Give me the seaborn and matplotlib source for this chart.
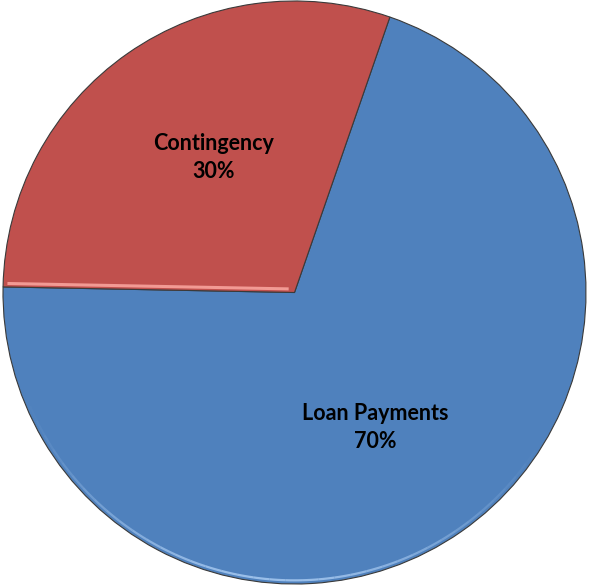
import matplotlib
matplotlib.use("Agg")
import numpy as np
import matplotlib.pyplot as plt
from matplotlib.patches import Arc
import seaborn as sns

categories = ["Loan Payments", "Contingency"]
shares = [70, 30]
colors = ["#4F81BD", "#C0504D"]

sns.set_theme(style="white")
plt.rcParams["font.family"] = ["Lato", "DejaVu Sans"]

fig = plt.figure(figsize=(5.89, 5.88), dpi=100)
ax = fig.add_axes([0, 0, 1, 1])

labels_iter = iter(categories)


def fmt(pct):
    return f"{next(labels_iter)}\n{pct:.0f}%"


wedges, texts, autotexts = ax.pie(
    shares,
    colors=colors,
    startangle=70.9,
    counterclock=False,
    autopct=fmt,
    pctdistance=0.54,
    wedgeprops=dict(edgecolor="#3a3a3a", linewidth=0.8),
    textprops=dict(fontsize=15.5, fontweight="bold", color="black",
                   linespacing=1.45),
)

# nudge labels a few degrees clockwise around the centre
rot = np.deg2rad(-4)
for t in autotexts:
    x, y = t.get_position()
    t.set_position((x * np.cos(rot) - y * np.sin(rot),
                    x * np.sin(rot) + y * np.cos(rot)))

# bevel highlight along the bottom rim, fading in and out
n_seg = 40
edges = np.linspace(200, 330, n_seg + 1)
for i in range(n_seg):
    fade = np.sin(np.pi * (i + 0.5) / n_seg) ** 1.5
    ax.add_patch(Arc((0, 0), 1.975, 1.975, theta1=edges[i], theta2=edges[i + 1],
                     color="#a9cbf2", lw=1.6, alpha=0.85 * fade, zorder=5))

# bevel highlight along the lower straight edge of the red slice
red = wedges[1]
a = np.deg2rad(red.theta1 if abs(red.theta1 - 180) < 10 else red.theta2)
r = np.linspace(0.02, 0.985, 50)
ax.plot(r * np.cos(a), r * np.sin(a) + 0.012, color="#f29a94", lw=2.2,
        solid_capstyle="butt", zorder=5)

ax.set_aspect("auto")
ax.set_xlim(-1.0103, 1.0103)
ax.set_ylim(-1.0137, 1.0034)
ax.axis("off")

fig.savefig("out.png", dpi=100, facecolor="white")
